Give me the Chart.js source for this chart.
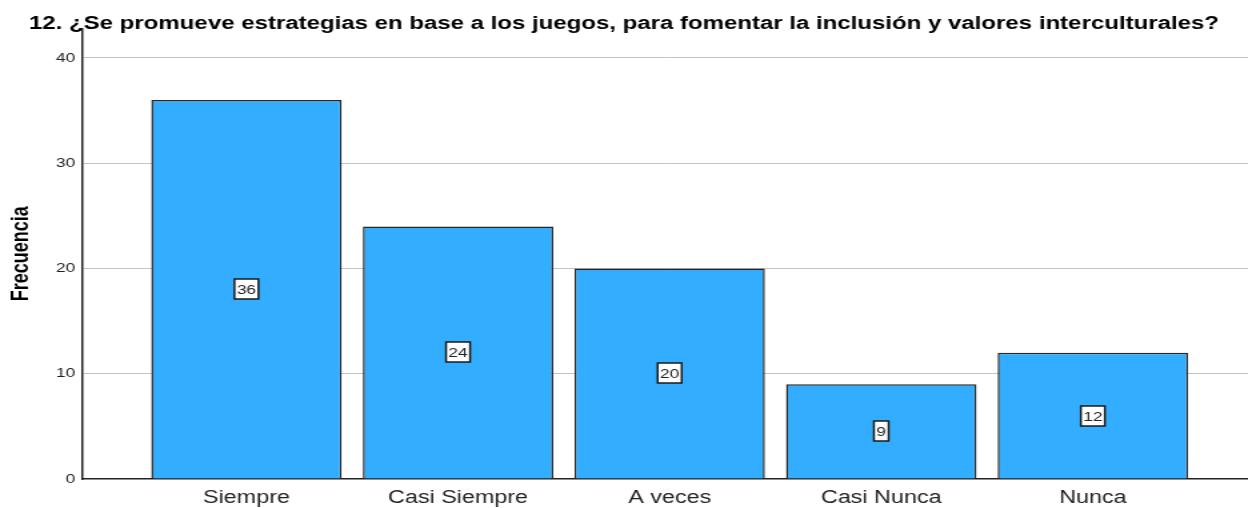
<!DOCTYPE html>
<html>
<head>
<meta charset="utf-8">
<script src="https://cdn.jsdelivr.net/npm/chart.js@4/dist/chart.umd.min.js"></script>
<style>
  html, body { margin: 0; padding: 0; background: #fff; overflow: hidden; }
  /* the reference is a horizontally stretched export, so draw narrower and stretch */
  #wrap { width: 936px; height: 508px; transform: scaleX(1.33333); transform-origin: 0 0; }
</style>
</head>
<body>
<div id="wrap"><canvas id="chart"></canvas></div>
<script>
const categories = ['Siempre', 'Casi Siempre', 'A veces', 'Casi Nunca', 'Nunca'];
const frequencies = [36, 24, 20, 9, 12];
const yTicks = [0, 10, 20, 30, 40];
const chartTitle = '12. ¿Se promueve estrategias en base a los juegos, para fomentar la inclusión y valores interculturales?';
const yTitle = 'Frecuencia';

const FONT = '"Liberation Sans", Arial, sans-serif';

// white boxes with the count, in the middle of each bar
const valueBoxes = {
  id: 'valueBoxes',
  afterDatasetsDraw(chart) {
    const ctx = chart.ctx;
    const meta = chart.getDatasetMeta(0);
    ctx.save();
    ctx.font = '13px ' + FONT;
    ctx.textAlign = 'center';
    ctx.textBaseline = 'middle';
    meta.data.forEach((bar, i) => {
      const txt = String(frequencies[i]);
      const cx = bar.x;
      const cy = Math.round((bar.y + bar.base) / 2);
      const w = Math.round(ctx.measureText(txt).width + 4);
      const h = 20;
      ctx.fillStyle = '#ffffff';
      ctx.fillRect(cx - w / 2, cy - h / 2, w, h);
      ctx.strokeStyle = '#1a1a1a';
      ctx.lineWidth = 1.5;
      ctx.strokeRect(cx - w / 2, cy - h / 2, w, h);
      ctx.fillStyle = '#222';
      ctx.fillText(txt, cx, cy + 1);
    });
    ctx.restore();
  }
};

const ctx = document.getElementById('chart').getContext('2d');
new Chart(ctx, {
  type: 'bar',
  data: {
    datasets: [{
      data: categories.map((c, i) => ({ x: i + 1, y: frequencies[i] })),
      backgroundColor: '#33adff',
      borderColor: '#262626',
      borderWidth: 1.5,
      barPercentage: 0.9,
      categoryPercentage: 1
    }]
  },
  options: {
    responsive: true,
    maintainAspectRatio: false,
    animation: false,
    layout: { padding: 0 },
    plugins: {
      legend: { display: false },
      tooltip: { enabled: false },
      title: {
        display: true,
        text: chartTitle,
        color: '#000',
        font: { family: FONT, size: 18, weight: 'bold', lineHeight: 1 },
        padding: { top: 15.5, bottom: -5 }
      }
    },
    scales: {
      x: {
        type: 'linear',
        offset: false,
        min: 0.2226,
        max: 5.733,
        afterFit: (scale) => { scale.height = 29; },
        grid: { display: false, drawTicks: false, offset: false },
        border: { display: true, color: '#222', width: 1.5 },
        afterBuildTicks: (scale) => {
          scale.ticks = categories.map((c, i) => ({ value: i + 1 }));
        },
        ticks: {
          autoSkip: false,
          maxRotation: 0,
          padding: 9,
          color: '#222',
          font: { family: FONT, size: 17.5 },
          callback: (v) => categories[v - 1]
        }
      },
      y: {
        min: 0,
        max: 42.8,
        afterFit: (scale) => { scale.width = 61.5; },
        afterBuildTicks: (scale) => {
          scale.ticks = yTicks.map(v => ({ value: v }));
        },
        grid: {
          drawTicks: false,
          color: (c) => c.tick && c.tick.value === 0 ? 'rgba(0,0,0,0)' : '#c4c4c4',
          lineWidth: 1
        },
        border: { display: true, color: '#222', width: 1.5 },
        ticks: {
          padding: 5,
          color: '#222',
          font: { family: FONT, size: 13 }
        },
        title: {
          display: true,
          text: yTitle,
          color: '#000',
          font: { family: FONT, size: 18, weight: 'bold' },
          padding: { top: 5.7, bottom: 0 }
        }
      }
    }
  },
  plugins: [valueBoxes]
});
</script>
</body>
</html>
